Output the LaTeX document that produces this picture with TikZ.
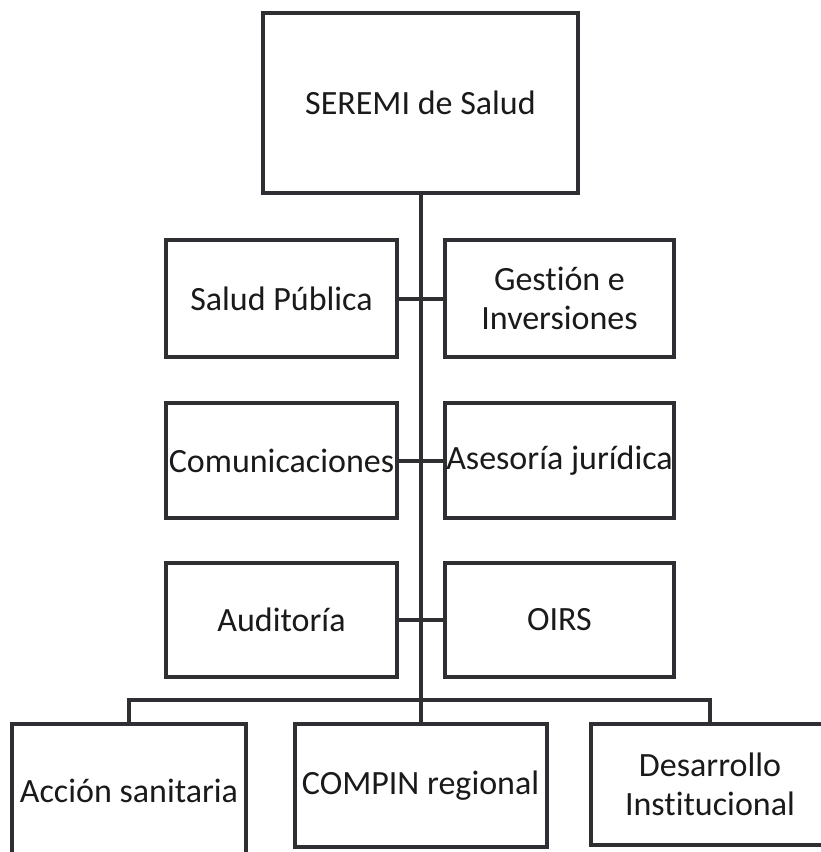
\documentclass[tikz,border=0pt]{standalone}
\usepackage{fontspec}
\setmainfont{Carlito}[Ligatures={NoCommon}]
\definecolor{linec}{HTML}{2E2E33}
\definecolor{textc}{HTML}{1A1A1A}
\begin{document}
\begin{tikzpicture}[x=1pt,y=-1pt,
  box/.style={draw=linec, line width=4pt, fill=white, inner sep=0pt, outer sep=0pt,
    align=center, text=textc, font=\fontsize{34}{39}\selectfont},
  conn/.style={draw=linec, line width=4pt}]
\useasboundingbox (0,0) rectangle (821,852);
\begin{scope}
\clip (0,0) rectangle (821,852);
\fill[white] (0,0) rectangle (821,852);
% top
\node[box, minimum width=315pt, minimum height=180pt] (top) at (420.5,103) {SEREMI de Salud};
% row 1
\node[box, minimum width=231pt, minimum height=117pt] (l1) at (281.5,298.5) {Salud Pública};
\node[box, minimum width=229pt, minimum height=117pt] (r1) at (559.5,298.5) {Gestión e\\Inversiones};
% row 2
\node[box, minimum width=231pt, minimum height=115pt] (l2) at (281.5,460.5) {Comunicaciones};
\node[box, minimum width=229pt, minimum height=115pt] (r2) at (559.5,460.5) {Asesoría jurídica};
% row 3
\node[box, minimum width=231pt, minimum height=114pt] (l3) at (281.5,620) {Auditoría};
\node[box, minimum width=229pt, minimum height=114pt] (r3) at (559.5,620) {OIRS};
% bottom
\node[box, minimum width=234pt, minimum height=134pt] (bl) at (129,791) {Acción sanitaria};
\node[box, minimum width=252pt, minimum height=123pt] (bm) at (420.5,785.5) {COMPIN regional};
\node[box, minimum width=238pt, minimum height=121pt] (br) at (710,784.5) {Desarrollo\\Institucional};
% connectors
\coordinate (busy) at (0,700);
\draw[conn] (top.south) -- (bm.north);
\draw[conn] (l1.east) -- (r1.west);
\draw[conn] (l2.east) -- (r2.west);
\draw[conn] (l3.east) -- (r3.west);
\draw[conn] (bl.north) |- (busy -| bm.north) -| (br.north);
\end{scope}
\end{tikzpicture}
\end{document}
